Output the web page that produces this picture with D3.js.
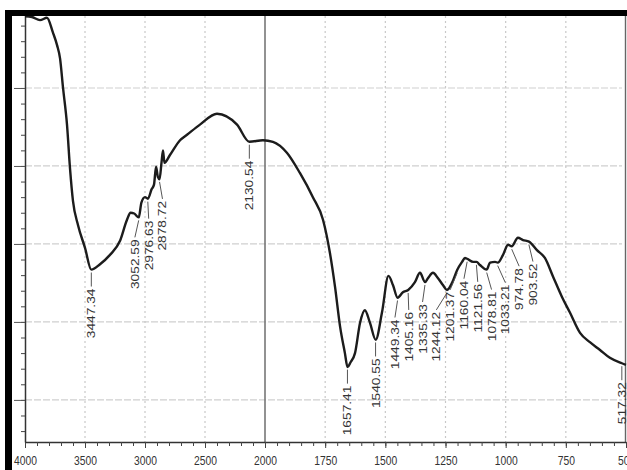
<!DOCTYPE html>
<html><head><meta charset="utf-8">
<script src="https://cdn.jsdelivr.net/npm/d3@7"></script>
<style>html,body{margin:0;padding:0;background:#fff;} svg{display:block;}</style>
</head><body><svg id="c" width="627" height="470"></svg>
<script>
// ---- data ----
const wavenumbers = [4000,3942,3875,3817,3767,3733,3708,3683,3650,3625,3600,3558,3500,3447,3375,3292,3208,3150,3120,3090,3052,3030,3000,2976,2945,2925,2908,2893,2879,2862,2850,2838,2792,2708,2650,2542,2400,2233,2130,2017,1967,1909,1855,1801,1759,1730,1709,1688,1668,1657,1645,1626,1605,1585,1564,1540,1514,1487,1468,1449,1427,1405,1377,1356,1335,1323,1302,1281,1260,1244,1223,1201,1181,1169,1160,1135,1121,1107,1079,1065,1044,1033,1011,990,975,949,928,903,870,837,803,766,733,691,650,608,567,517,500];
const transmittance = [59.2,59.1,58.7,59.0,57.1,55.5,53.8,50.0,45.3,39.7,35.5,32.4,29.5,26.7,27.4,28.6,30.4,33.1,34.0,33.9,33.4,35.3,36.0,35.8,37.0,37.6,39.9,38.6,38.3,40.5,42.0,40.4,41.4,43.3,44.0,45.3,46.7,45.3,43.1,43.3,43.1,41.7,39.1,36.0,33.1,28.8,24.5,19.4,16.0,14.2,14.8,16.0,19.9,21.5,19.9,17.7,21.2,25.9,24.7,23.1,23.8,24.1,25.1,26.3,25.1,25.6,26.3,25.6,24.7,24.1,25.0,26.7,27.7,28.2,28.1,27.7,27.7,27.3,26.7,27.6,27.7,27.6,28.6,29.9,29.7,30.8,30.5,30.3,29.2,28.2,25.8,23.2,21.2,18.6,17.4,16.4,15.4,14.7,14.5];
const peakLabels = [3447.34,3052.59,2976.63,2878.72,2130.54,1657.41,1540.55,1449.34,1405.16,1335.33,1244.12,1201.37,1160.04,1121.56,1078.81,1033.21,974.78,903.52,517.32];
const xTickLabels = [4000,3500,3000,2500,2000,1750,1500,1250,1000,750,500];
const yGridValues = [10,20,30,40,50,60];

// ---- scales ----
const svg = d3.select("#c");
const x = d3.scaleLinear().domain([4000,2000,500]).range([25,265,626]);
const y = d3.scaleLinear().domain([4.6,60]).range([442,10]);
const plotTop = 16, plotBottom = 442, plotLeft = 25;

// grid
const grid = svg.append("g");
grid.selectAll("line.h").data(yGridValues.filter(v=>y(v)>plotTop)).join("line")
  .attr("x1",plotLeft).attr("x2",622).attr("y1",d=>y(d)).attr("y2",d=>y(d))
  .attr("stroke","#cfcfcf").attr("stroke-width",1.2).attr("stroke-dasharray","7,2");
grid.selectAll("line.v").data(xTickLabels.filter(v=>v!==4000&&v!==2000&&v!==500)).join("line")
  .attr("x1",d=>x(d)).attr("x2",d=>x(d)).attr("y1",plotTop).attr("y2",plotBottom)
  .attr("stroke","#c8c8c8").attr("stroke-width",1.2).attr("stroke-dasharray","2,3");
svg.append("line").attr("x1",x(2000)).attr("x2",x(2000)).attr("y1",plotTop).attr("y2",plotBottom)
  .attr("stroke","#777").attr("stroke-width",1.6);
svg.append("line").attr("x1",625.5).attr("x2",625.5).attr("y1",plotTop).attr("y2",plotBottom)
  .attr("stroke","#666").attr("stroke-width",1.4);

// x axis
const minorX = d3.range(4000,2000,-100).concat(d3.range(2000,499,-50));
const gxMinor = svg.append("g").attr("transform",`translate(0,${plotBottom})`)
  .call(d3.axisBottom(x).tickValues(minorX).tickFormat("").tickSize(4).tickSizeOuter(0));
gxMinor.selectAll("line").attr("stroke","#444");
gxMinor.select(".domain").attr("stroke","#333").attr("stroke-width",1.5);
const gx = svg.append("g").attr("transform",`translate(0,${plotBottom})`)
  .call(d3.axisBottom(x).tickValues(xTickLabels).tickFormat(d3.format("d")).tickSize(6).tickSizeOuter(0));
gx.select(".domain").remove();
gx.selectAll("line").attr("stroke","#444");
gx.selectAll("text").attr("fill","#333").attr("font-size",12)
  .attr("font-family","Liberation Sans, Arial, sans-serif")
  .attr("y",0).attr("dy",0)
  .attr("transform","translate(0,23) scale(0.86,1)");

// y axis
const minorY = d3.range(6,60.1,2);
const gyMinor = svg.append("g").attr("transform",`translate(${plotLeft},0)`)
  .call(d3.axisLeft(y).tickValues(minorY).tickFormat("").tickSize(4).tickSizeOuter(0));
gyMinor.selectAll("line").attr("stroke","#444");
gyMinor.select(".domain").attr("stroke","#333").attr("stroke-width",1.5);
const gy = svg.append("g").attr("transform",`translate(${plotLeft},0)`)
  .call(d3.axisLeft(y).tickValues(yGridValues).tickFormat("").tickSize(11).tickSizeOuter(0));
gy.select(".domain").remove();
gy.selectAll("line").attr("stroke","#555");

// spectrum
const pts = wavenumbers.map((w,i)=>[w,transmittance[i]]);
svg.append("path").datum(pts)
  .attr("d",d3.line().x(d=>x(d[0])).y(d=>y(d[1])).curve(d3.curveMonotoneX))
  .attr("fill","none").attr("stroke","#1c1c1c").attr("stroke-width",2.4).attr("stroke-linejoin","round");

// peak labels
function tAt(w){
  for(let i=0;i<wavenumbers.length-1;i++){
    const a=wavenumbers[i], b=wavenumbers[i+1];
    if(w<=a && w>=b){ const t=(a-w)/(a-b); return transmittance[i]+t*(transmittance[i+1]-transmittance[i]); }
  }
  return transmittance[transmittance.length-1];
}
const peaks = peakLabels.map(w=>({w, px:x(w), py:y(tAt(w))}));
const spacing = 13.8;
function place(g){ const m=d3.mean(g,d=>d.px); g.forEach((d,i)=>{ d.lx=m+(i-(g.length-1)/2)*spacing; d.clustered=g.length>1; }); }
let groups = peaks.map(p=>[p]);
groups.forEach(place);
let merged = true;
while(merged){
  merged = false;
  for(let i=0;i<groups.length-1;i++){
    const a=groups[i], b=groups[i+1];
    if(b[0].lx - a[a.length-1].lx < spacing-0.01){
      const g=a.concat(b); place(g); groups.splice(i,2,g); merged=true; break;
    }
  }
}
peaks.forEach(d=>{ d.ty = d.py + (d.clustered?22:19); });
const lab = svg.append("g");
lab.selectAll("path").data(peaks).join("path")
  .attr("d",d=>`M${d.px},${d.py+3}L${d.lx},${d.ty-2}`)
  .attr("stroke","#555").attr("stroke-width",1).attr("fill","none");
lab.selectAll("text").data(peaks).join("text")
  .attr("transform",d=>`translate(${d.lx+4},${d.ty}) rotate(-90) scale(1.25,1)`)
  .attr("text-anchor","end").attr("font-size",11)
  .attr("font-family","Liberation Sans, Arial, sans-serif").attr("fill","#333")
  .text(d=>d3.format(".2f")(d.w));

// black frame pieces (top and left)
svg.append("rect").attr("x",5).attr("y",10).attr("width",622).attr("height",6).attr("fill","#000");
svg.append("rect").attr("x",5).attr("y",10).attr("width",7).attr("height",460).attr("fill","#000");
</script></body></html>
